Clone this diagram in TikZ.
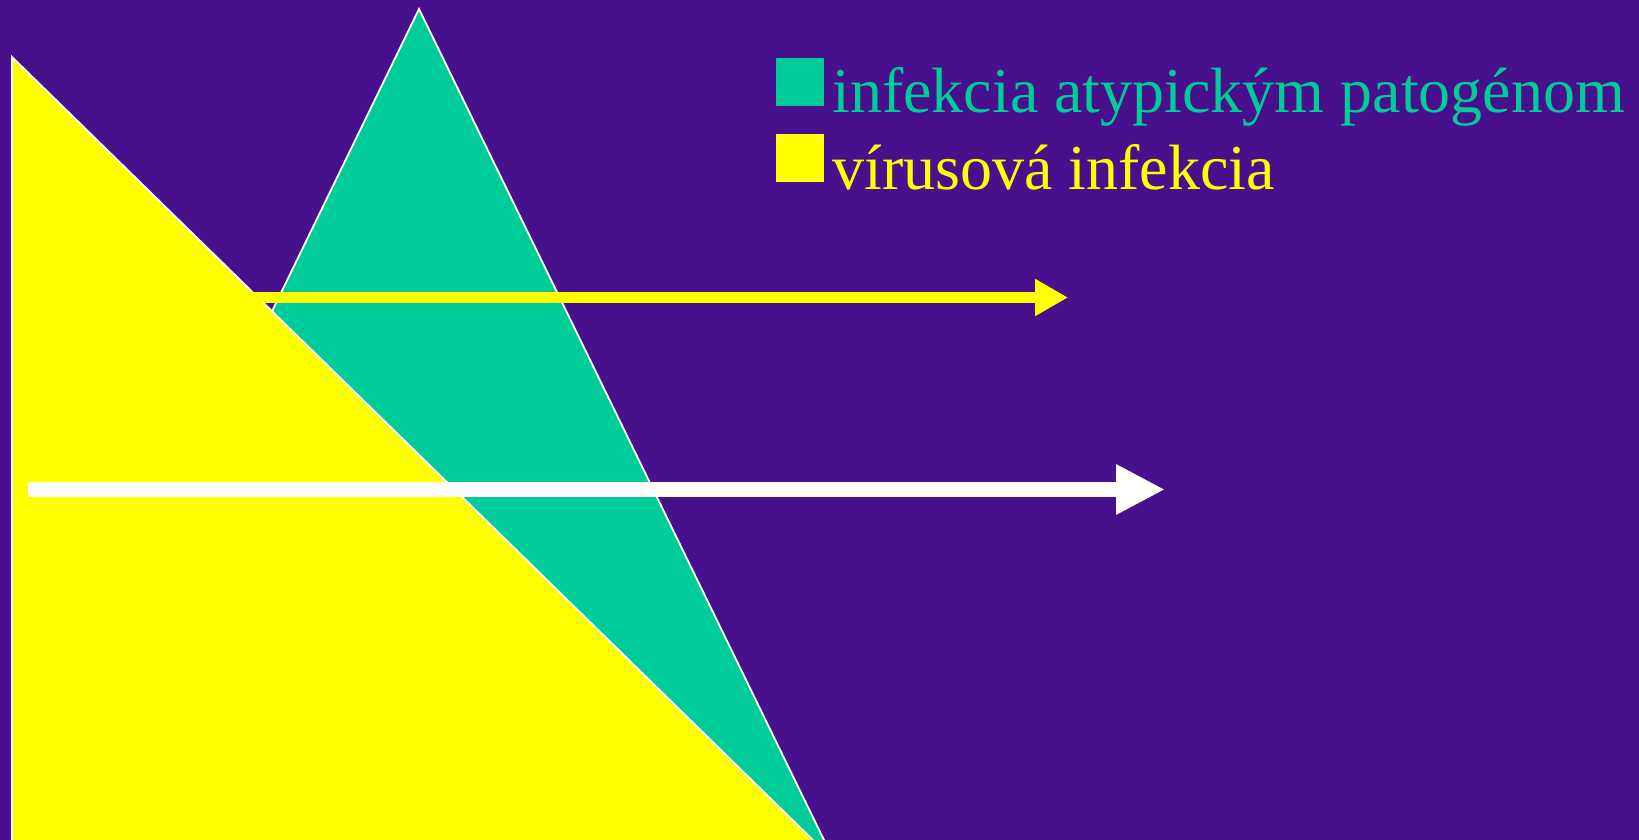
\documentclass[tikz,border=0pt]{standalone}
\usepackage{fontspec}
\setmainfont{Liberation Serif}
\usetikzlibrary{arrows.meta,positioning}

\definecolor{bgpurple}{RGB}{72,16,140}
\definecolor{atypgreen}{RGB}{0,204,153}
\definecolor{virusyellow}{RGB}{255,255,0}

\begin{document}
\begin{tikzpicture}[
		x=0.5pt, y=-0.5pt,
		tri/.style={draw=white, line width=0.9pt, line join=miter},
		legbox/.style={rectangle, inner sep=0pt, minimum size=24pt},
		legtext/.style={font=\fontsize{32}{36}\selectfont, inner sep=0pt, anchor=base west},
		yarrow/.style={-{Triangle[length=16.5pt,width=17.5pt]}, line width=5.5pt, draw=virusyellow},
		warrow/.style={-{Triangle[length=24.5pt,width=23.5pt]}, line width=7.5pt, draw=white}
		]
		% Background
		\fill[bgpurple] (0,0) rectangle (1639,840);
		\useasboundingbox (0,0) rectangle (1639,840);

		% Triangles
		\filldraw[tri, fill=atypgreen] (14,842) -- (419,9) -- (825,842);
		\filldraw[tri, fill=virusyellow] (12,842) -- (12,57) -- (815,842);

		% Arrow end points
		\coordinate (ystart) at (250,297.5);
		\coordinate (yend) at (1068,297.5);
		\coordinate (wstart) at (28,489.5);
		\coordinate (wend) at (1165,489.5);

		% Arrows
		\draw[yarrow] (ystart) -- (yend);
		\draw[warrow] (wstart) -- (wend);

		% Legend
		\node[legbox, fill=atypgreen] (gbox) at (799.5,82.5) {};
		\node[legbox, fill=virusyellow] (ybox) at (799.5,158.5) {};
		\node[legtext, text=atypgreen] (gtext) at (832,113) {infekcia atypickým patogénom};
		\node[legtext, text=virusyellow] (ytext) at (832,190) {vírusová infekcia};

	\end{tikzpicture}
\end{document}
